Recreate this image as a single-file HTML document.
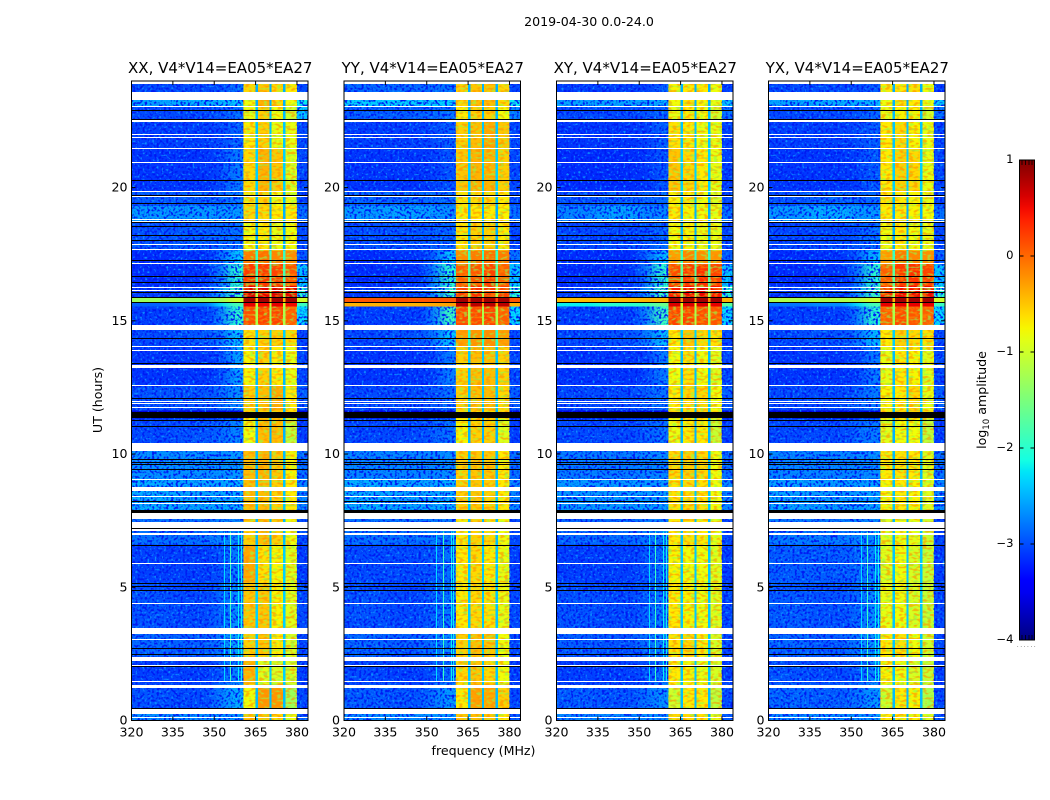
<!DOCTYPE html>
<html lang="en">
<head>
<meta charset="utf-8">
<title>2019-04-30 0.0-24.0 dynamic spectra</title>
<style>
html,body{margin:0;padding:0;background:#fff;width:1050px;height:800px;overflow:hidden}
svg{display:block}
text{font-family:"DejaVu Sans","Liberation Sans",sans-serif;fill:#000}
</style>
</head>
<body>
<svg id="figure" xmlns="http://www.w3.org/2000/svg" width="1050" height="800" viewBox="0 0 1050 800">
<defs id="figure-defs">
<filter id="speckle-dark" x="0" y="0" width="1" height="1" color-interpolation-filters="sRGB">
<feTurbulence type="fractalNoise" baseFrequency="0.42" numOctaves="1" seed="4"/>
<feColorMatrix type="matrix" values="0 0 0 0 0  0 0 0 0 0.1  0 0 0 0 0.95  0 0 0 6 -2.9"/>
</filter>
<filter id="speckle-light" x="0" y="0" width="1" height="1" color-interpolation-filters="sRGB">
<feTurbulence type="fractalNoise" baseFrequency="0.42" numOctaves="1" seed="11"/>
<feColorMatrix type="matrix" values="0 0 0 0 0.05  0 0 0 0 0.55  0 0 0 0 1  0 0 0 6 -3.5"/>
</filter>
<filter id="speckle-warm" x="0" y="0" width="1" height="1" color-interpolation-filters="sRGB">
<feTurbulence type="fractalNoise" baseFrequency="0.22 0.42" numOctaves="1" seed="7"/>
<feColorMatrix type="matrix" values="0 0 0 0 1  0 0 0 0 0.55  0 0 0 0 0  0 0 0 6 -2.9"/>
</filter>
<filter id="speckle-green" x="0" y="0" width="1" height="1" color-interpolation-filters="sRGB">
<feTurbulence type="fractalNoise" baseFrequency="0.22 0.42" numOctaves="1" seed="15"/>
<feColorMatrix type="matrix" values="0 0 0 0 0.55  0 0 0 0 1  0 0 0 0 0.3  0 0 0 6 -3.2"/>
</filter>
<filter id="blur-wide" x="-0.1" y="0" width="1.2" height="1" color-interpolation-filters="sRGB">
<feGaussianBlur stdDeviation="6 0"/>
</filter>
<linearGradient id="jet-gradient" x1="0" y1="1" x2="0" y2="0"></linearGradient>
</defs>
<text x="589" y="26" font-size="12.6" text-anchor="middle">2019-04-30 0.0-24.0</text>
<text x="483.5" y="755" font-size="12.6" text-anchor="middle">frequency (MHz)</text>
<text x="102" y="400" font-size="12.6" text-anchor="middle" transform="rotate(-90 102 400)">UT (hours)</text>
<text x="986" y="400" font-size="12.6" text-anchor="middle" transform="rotate(-90 986 400)">log<tspan font-size="8.6" dy="3">10</tspan><tspan dy="-3"> amplitude</tspan></text>
<g id="panels"></g>
<g id="colorbar"></g>
</svg>
<script>
// ---- data ----
const panelTitles = ["XX, V4*V14=EA05*EA27", "YY, V4*V14=EA05*EA27", "XY, V4*V14=EA05*EA27", "YX, V4*V14=EA05*EA27"];
const freqTicks = [320, 335, 350, 365, 380];
const utTicks = [0, 5, 10, 15, 20];
const colorTicks = [1, 0, -1, -2, -3, -4];
const freqEdges = [320, 335, 350, 355, 360.6, 365, 365.8, 370, 370.8, 375, 375.8, 380, 384];
const utEdges = [24, 23.29, 23.06, 22.5, 21.49, 19.88, 19.31, 18.75, 17.63, 17.14, 16.31, 15.86, 15.68, 15.53, 14.85, 14.06, 12.56, 11.63, 11.33, 10.39, 9.08, 7.8, 6.6, 5.18, 3.45, 2.4, 1.35, 0.45, 0];

const amplitudeXX = [
[-3.0,-3.0,-3.0,-2.8,-0.6,-2.5,-0.5,-2.5,-0.6,-2.5,-0.7,-3.0],
[-2.55,-2.5,-2.45,-2.4,-0.8,-2.5,-0.4,-2.5,-0.6,-2.5,-0.8,-2.2],
[-3,-3,-2.95,-2.8,-0.85,-2.45,-0.55,-2.45,-0.8,-2.45,-1.0,-2.4],
[-3.05,-3.05,-3,-2.85,-0.7,-2.4,-0.55,-2.4,-0.85,-2.4,-0.85,-3],
[-3.1,-3.1,-3,-2.75,-0.6,-2.35,-0.4,-2.35,-0.5,-2.35,-0.9,-3],
[-2.9,-2.9,-2.85,-2.75,-0.7,-2.45,-0.55,-2.45,-0.8,-2.45,-0.85,-3],
[-2.6,-2.6,-2.6,-2.6,-0.6,-2.5,-0.6,-2.5,-0.7,-2.5,-0.7,-2.8],
[-2.95,-2.9,-2.85,-2.8,-0.8,-2.5,-0.7,-2.5,-0.85,-2.5,-0.8,-3],
[-3.15,-3.1,-2.85,-2.4,-0.1,-1.9,-0.05,-1.9,-0.15,-1.9,-0.2,-2.9],
[-3.15,-3.1,-2.75,-2,0.25,-1.8,0.25,-1.8,0.2,-1.8,0.1,-2.4],
[-3.05,-3,-2.6,-1.9,0.6,-1.2,0.55,-1.2,0.6,-1.2,0.55,-2],
[-1.3,-1.35,-1.3,-1,0.85,-0.4,0.85,-0.4,0.85,-0.4,0.85,-1],
[-2.9,-2.8,-2.3,-1.8,0.55,-1,0.5,-1,0.55,-1,0.5,-1.9],
[-3.05,-3.05,-2.75,-2,0.15,-1.2,0.2,-1.2,0.2,-1.2,0.05,-2.3],
[-3,-2.95,-2.8,-2.4,-0.65,-2.35,-0.55,-2.35,-0.55,-2.35,-0.6,-3],
[-3.1,-3.1,-3,-2.55,-0.75,-2.45,-0.55,-2.45,-0.7,-2.45,-0.85,-3],
[-2.95,-2.95,-2.85,-2.65,-0.55,-2.4,-0.45,-2.4,-0.35,-2.4,-0.7,-2.9],
[-3.6,-3.6,-3.6,-3.6,-0.6,-2.5,-0.6,-2.5,-0.6,-2.5,-0.6,-3.6],
[-3,-2.95,-2.85,-2.7,-0.8,-2.5,-0.45,-2.5,-0.45,-2.5,-1.1,-3.05],
[-2.65,-2.65,-2.65,-2.6,-0.45,-2.45,-0.4,-2.45,-0.5,-2.45,-0.75,-2.8],
[-2.5,-2.55,-2.55,-2.5,-0.45,-2.4,-0.45,-2.4,-0.55,-2.4,-0.7,-2.7],
[-2.8,-2.8,-2.7,-2.7,-0.55,-2.45,-0.45,-2.45,-0.55,-2.45,-0.8,-3],
[-3.05,-3.05,-2.95,-2.75,-0.35,-2.35,-0.65,-2.35,-0.75,-2.35,-0.9,-3.05],
[-2.95,-3,-2.85,-2.65,-0.5,-2.35,-0.5,-2.35,-0.75,-2.35,-0.9,-3],
[-2.85,-2.9,-2.75,-2.55,-0.55,-2.4,-0.5,-2.4,-0.7,-2.4,-0.95,-3],
[-3.05,-3.05,-2.95,-2.7,-0.4,-2.35,-0.9,-2.35,-0.95,-2.35,-0.95,-3.05],
[-2.95,-3,-2.75,-2.5,-0.8,-2.45,-0.25,-2.45,-0.25,-2.45,-1.3,-3],
[-2.65,-2.65,-2.65,-2.6,-0.5,-2.5,-0.5,-2.5,-0.6,-2.5,-0.8,-2.9]
];
const amplitudeYY = [
[-2.85,-2.85,-2.85,-2.75,-0.55,-2.5,-0.5,-2.5,-0.5,-2.5,-0.6,-3],
[-2.35,-2.35,-2.35,-2.35,-0.6,-2.5,-0.45,-2.5,-0.45,-2.5,-0.6,-2.2],
[-2.9,-2.9,-2.85,-2.8,-0.7,-2.45,-0.55,-2.45,-0.55,-2.45,-0.8,-2.7],
[-3.05,-3.05,-3,-2.9,-0.55,-2.4,-0.45,-2.4,-0.35,-2.4,-0.5,-3],
[-3.1,-3.1,-3.05,-2.95,-0.5,-2.35,-0.4,-2.35,-0.4,-2.35,-0.55,-3],
[-2.85,-2.85,-2.85,-2.8,-0.65,-2.45,-0.6,-2.45,-0.6,-2.45,-0.7,-3],
[-2.6,-2.55,-2.6,-2.65,-0.7,-2.5,-0.7,-2.5,-0.7,-2.5,-0.75,-2.8],
[-2.95,-2.95,-2.9,-2.85,-0.65,-2.5,-0.55,-2.5,-0.55,-2.5,-0.7,-3],
[-3.15,-3.1,-2.9,-2.4,-0.2,-1.9,-0.1,-1.9,-0.05,-1.9,-0.1,-2.8],
[-3.15,-3.1,-2.75,-2,0.05,-1.7,0.1,-1.7,0.2,-1.7,0.05,-2.4],
[-3.05,-3,-2.7,-1.9,0.2,-1.2,0.3,-1.2,0.25,-1.2,0.2,-2],
[0.1,0.1,0.1,0.1,0.85,0.2,0.85,0.2,0.85,0.2,0.85,0.1],
[-0.4,-0.4,-0.35,-0.3,0.75,-0.3,0.75,-0.3,0.75,-0.3,0.75,-0.4],
[-3.05,-3.05,-2.75,-1.9,0.15,-1.2,0.15,-1.2,0.2,-1.2,0.05,-2.3],
[-3,-2.95,-2.8,-2.4,-0.3,-2,-0.25,-2,-0.2,-2,-0.3,-3],
[-3.1,-3.1,-3.05,-2.75,-0.55,-2.4,-0.45,-2.4,-0.45,-2.4,-0.55,-3],
[-3,-3,-2.95,-2.8,-0.55,-2.4,-0.45,-2.4,-0.45,-2.4,-0.6,-2.9],
[-3.6,-3.6,-3.6,-3.6,-0.6,-2.5,-0.6,-2.5,-0.6,-2.5,-0.6,-3.6],
[-3,-3,-2.9,-2.8,-0.75,-2.5,-0.55,-2.5,-0.55,-2.5,-0.9,-3.05],
[-2.7,-2.7,-2.7,-2.65,-0.55,-2.45,-0.5,-2.45,-0.5,-2.45,-0.7,-2.8],
[-2.5,-2.55,-2.55,-2.5,-0.55,-2.4,-0.5,-2.4,-0.55,-2.4,-0.7,-2.7],
[-2.8,-2.8,-2.75,-2.75,-0.7,-2.45,-0.55,-2.45,-0.6,-2.45,-0.8,-3],
[-3,-3,-2.95,-2.8,-0.7,-2.4,-0.6,-2.4,-0.7,-2.4,-0.85,-3.05],
[-2.95,-3,-2.9,-2.75,-0.7,-2.4,-0.6,-2.4,-0.65,-2.4,-0.85,-3],
[-2.85,-2.9,-2.8,-2.7,-0.55,-2.4,-0.45,-2.4,-0.5,-2.4,-0.8,-3],
[-3,-3.05,-2.95,-2.8,-0.6,-2.4,-0.5,-2.4,-0.6,-2.4,-0.8,-3.05],
[-2.9,-2.95,-2.8,-2.6,-0.7,-2.45,-0.3,-2.45,-0.35,-2.45,-0.55,-3],
[-2.65,-2.65,-2.65,-2.6,-0.5,-2.5,-0.45,-2.5,-0.5,-2.5,-0.7,-2.9]
];
const amplitudeXY = [
[-3.05,-3.05,-3.05,-2.9,-0.75,-2.5,-0.7,-2.5,-0.7,-2.5,-0.8,-3.05],
[-2.55,-2.55,-2.55,-2.5,-0.8,-2.5,-0.65,-2.5,-0.75,-2.5,-0.85,-2.4],
[-3,-3,-2.95,-2.9,-0.85,-2.45,-0.7,-2.45,-0.8,-2.45,-1,-2.8],
[-3.1,-3.1,-3.05,-2.9,-0.65,-2.4,-0.7,-2.4,-0.8,-2.4,-0.85,-3.05],
[-3.15,-3.15,-3.1,-2.95,-0.5,-2.35,-0.6,-2.35,-0.7,-2.35,-0.85,-3.05],
[-2.95,-2.9,-2.9,-2.85,-0.75,-2.45,-0.7,-2.45,-0.8,-2.45,-0.9,-3],
[-2.7,-2.55,-2.7,-2.7,-0.7,-2.5,-0.75,-2.5,-0.8,-2.5,-0.85,-2.8],
[-3,-3,-2.95,-2.85,-0.8,-2.5,-0.75,-2.5,-0.85,-2.5,-0.85,-3],
[-3.15,-3.15,-2.9,-2.45,-0.3,-1.9,-0.15,-1.9,-0.2,-1.9,-0.25,-2.9],
[-3.15,-3.1,-2.8,-2,0.15,-1.7,0.25,-1.7,0.3,-1.7,0.2,-2.4],
[-3.05,-3,-2.7,-1.9,0.4,-1.2,0.5,-1.2,0.55,-1.2,0.45,-2],
[-0.45,-0.45,-0.4,-0.4,0.85,-0.2,0.85,-0.2,0.85,-0.2,0.85,-0.4],
[-2.2,-2,-1.9,-1.6,0.6,-0.9,0.6,-0.9,0.6,-0.9,0.55,-1.7],
[-3.05,-3.05,-2.75,-1.9,0.2,-1.2,0.2,-1.2,0.15,-1.2,0.1,-2.3],
[-3,-2.95,-2.8,-2.45,-0.7,-2.35,-0.5,-2.35,-0.6,-2.35,-0.65,-3],
[-3.1,-3.1,-3.05,-2.75,-0.8,-2.45,-0.65,-2.45,-0.8,-2.45,-0.9,-3],
[-3,-3,-2.9,-2.8,-0.7,-2.4,-0.6,-2.4,-0.6,-2.4,-0.8,-2.9],
[-3.6,-3.6,-3.6,-3.6,-0.6,-2.5,-0.6,-2.5,-0.6,-2.5,-0.6,-3.6],
[-3,-3,-2.9,-2.8,-0.85,-2.5,-0.7,-2.5,-0.7,-2.5,-1.05,-3.05],
[-2.75,-2.75,-2.7,-2.7,-0.6,-2.45,-0.55,-2.45,-0.6,-2.45,-0.8,-2.8],
[-2.6,-2.6,-2.6,-2.6,-0.65,-2.4,-0.6,-2.4,-0.65,-2.4,-0.8,-2.7],
[-2.85,-2.85,-2.75,-2.75,-0.7,-2.45,-0.65,-2.45,-0.7,-2.45,-0.85,-3],
[-3.05,-3.05,-2.95,-2.8,-0.75,-2.4,-0.8,-2.4,-0.8,-2.4,-0.9,-3.05],
[-2.95,-3,-2.9,-2.75,-0.7,-2.4,-0.75,-2.4,-0.8,-2.4,-0.9,-3],
[-2.9,-2.95,-2.8,-2.7,-0.65,-2.4,-0.6,-2.4,-0.7,-2.4,-0.95,-3],
[-3.05,-3.05,-2.95,-2.8,-0.7,-2.4,-0.75,-2.4,-0.85,-2.4,-0.95,-3.05],
[-2.9,-2.95,-2.8,-2.65,-1,-2.45,-0.7,-2.45,-0.7,-2.45,-1.1,-3],
[-2.7,-2.7,-2.65,-2.65,-0.6,-2.5,-0.6,-2.5,-0.65,-2.5,-0.85,-2.9]
];
const amplitudeYX = [
[-3,-3,-3,-2.9,-0.7,-2.5,-0.7,-2.5,-0.65,-2.5,-0.8,-3.05],
[-2.55,-2.5,-2.5,-2.45,-0.8,-2.5,-0.65,-2.5,-0.7,-2.5,-0.85,-2.4],
[-3,-3,-2.95,-2.85,-0.85,-2.45,-0.75,-2.45,-0.75,-2.45,-1,-2.8],
[-3.05,-3.05,-3,-2.9,-0.7,-2.4,-0.6,-2.4,-0.75,-2.4,-0.85,-3],
[-3.1,-3.1,-3.05,-2.9,-0.7,-2.35,-0.55,-2.35,-0.6,-2.35,-0.85,-3],
[-2.95,-2.85,-2.9,-2.85,-0.65,-2.45,-0.7,-2.45,-0.75,-2.45,-0.85,-3],
[-2.6,-2.5,-2.6,-2.6,-0.7,-2.5,-0.7,-2.5,-0.75,-2.5,-0.8,-2.8],
[-3,-3,-2.95,-2.8,-0.8,-2.5,-0.7,-2.5,-0.8,-2.5,-0.85,-3],
[-3.15,-3.1,-2.9,-2.45,-0.3,-1.9,-0.1,-1.9,-0.15,-1.9,-0.2,-2.9],
[-3.15,-3.1,-2.8,-2,0.05,-1.7,0.25,-1.7,0.3,-1.7,0.2,-2.4],
[-3.05,-3,-2.7,-1.9,0.3,-1.2,0.5,-1.2,0.5,-1.2,0.5,-2],
[-1.2,-1.2,-1.15,-1,0.85,-0.4,0.85,-0.4,0.85,-0.4,0.85,-1],
[-2.8,-2.7,-2.3,-1.8,0.55,-1,0.55,-1,0.55,-1,0.55,-1.9],
[-3.05,-3.05,-2.75,-2,0.05,-1.2,0.15,-1.2,0.1,-1.2,0.05,-2.3],
[-3,-2.95,-2.8,-2.45,-0.7,-2.35,-0.55,-2.35,-0.6,-2.35,-0.65,-3],
[-3.1,-3.1,-3.05,-2.75,-0.85,-2.45,-0.7,-2.45,-0.75,-2.45,-0.9,-3],
[-3,-3,-2.9,-2.75,-0.75,-2.4,-0.7,-2.4,-0.6,-2.4,-0.85,-2.9],
[-3.6,-3.6,-3.6,-3.6,-0.6,-2.5,-0.6,-2.5,-0.6,-2.5,-0.6,-3.6],
[-3,-3,-2.85,-2.75,-0.9,-2.5,-0.8,-2.5,-0.8,-2.5,-1.1,-3.05],
[-2.7,-2.7,-2.7,-2.65,-0.7,-2.45,-0.65,-2.45,-0.7,-2.45,-0.9,-2.8],
[-2.55,-2.6,-2.6,-2.55,-0.75,-2.4,-0.7,-2.4,-0.75,-2.4,-0.9,-2.7],
[-2.75,-2.75,-2.7,-2.7,-0.9,-2.45,-0.8,-2.45,-0.85,-2.45,-1,-3],
[-2.9,-2.9,-2.85,-2.7,-0.9,-2.4,-0.8,-2.4,-0.95,-2.4,-1.05,-3.05],
[-2.9,-2.95,-2.85,-2.65,-0.85,-2.4,-0.8,-2.4,-0.95,-2.4,-1.05,-3],
[-2.85,-2.9,-2.75,-2.6,-0.7,-2.4,-0.65,-2.4,-0.8,-2.4,-1,-3],
[-2.95,-3,-2.9,-2.7,-0.75,-2.4,-0.8,-2.4,-0.95,-2.4,-1.05,-3.05],
[-2.85,-2.9,-2.8,-2.6,-1,-2.45,-0.7,-2.45,-0.75,-2.45,-1.2,-3],
[-2.65,-2.65,-2.65,-2.6,-0.7,-2.5,-0.7,-2.5,-0.75,-2.5,-0.9,-2.9]
];
const panelAmplitudes = [amplitudeXX, amplitudeYY, amplitudeXY, amplitudeYX];

// flagged integrations (blank, UT start / end)
const flaggedRanges = [[24,23.87],[23.6,23.29],[14.85,14.65],[13.35,13.22],[10.4,10.13],[8.78,8.6],[7.77,7.58],[7.44,7.22],[3.46,3.25],[2.37,2.24],[1.35,1.23],[0.42,0.24]];
const flaggedLines = [23.04,22.5,21.98,21.89,21.46,20.93,19.85,19.66,18.81,18.71,17.86,17.66,17.14,16.25,16.15,14.03,13.9,12.56,11.97,11.88,11.75,9.05,8.41,8.13,7.15,7.0,5.88,4.38,3.04,2.07,1.47,0.1];
// zero-amplitude integrations (black)
const deadRanges = [[11.56,11.35],[7.9,7.78]];
const deadLines = [22.88,22.56,20.28,19.7,19.4,18.68,18.54,18.2,18,17.28,16.65,16.44,16.06,15.86,15.69,14.35,13.4,12.09,11.25,11.04,9.79,9.69,9.6,9.44,8.22,7.21,6.59,5.15,5.03,4.88,2.71,2.48,2.04,0.46];
// narrow-band interference: frequency (MHz), UT start, UT end, log amplitude
const rfiFreqs = [353.5, 355.8, 358.7, 359.6];
const rfiStart = [1.45, 1.45, 1.45, 1.45];
const rfiEnd = [7.1, 7.1, 7.1, 7.1];
const rfiLevels = [-2.3, -1.9, -2.2, -2.2];

// ---- axis functions ----
const panelLefts = [131.5, 344, 556.5, 768.5];
const panelWidth = 176.5;
const axisTop = 81, axisBottom = 720.5;
function xScale(panel, f){ return panelLefts[panel] + (f - 320) / 64 * panelWidth; }
function yScale(ut){ return axisBottom - ut / 24 * (axisBottom - axisTop); }
const NS = "http://www.w3.org/2000/svg";
function make(tag, attrs, parent){
  const el = document.createElementNS(NS, tag);
  for (const k in attrs) el.setAttribute(k, attrs[k]);
  parent.appendChild(el);
  return el;
}
function lerpStops(stops, t){
  for (let i = 1; i < stops.length; i++){
    if (t <= stops[i][0]){
      const a = stops[i-1], b = stops[i];
      return a[1] + (b[1]-a[1]) * (t-a[0]) / (b[0]-a[0]);
    }
  }
  return stops[stops.length-1][1];
}
const jetR = [[0,0],[0.35,0],[0.66,1],[0.89,1],[1,0.5]];
const jetG = [[0,0],[0.125,0],[0.375,1],[0.64,1],[0.91,0],[1,0]];
const jetB = [[0,0.5],[0.11,1],[0.34,1],[0.65,0],[1,0]];
function jet(v){
  const t = Math.max(0, Math.min(1, (v + 4) / 5));
  const c = [jetR, jetG, jetB].map(s => Math.round(255 * lerpStops(s, t)));
  return "rgb(" + c.join(",") + ")";
}
function drawCells(p, firstCol, lastCol, parent){
  panelAmplitudes[p].forEach((row, r) => {
    for (let c = firstCol; c <= lastCol; c++){
      const x0 = xScale(p, freqEdges[c]), x1 = xScale(p, freqEdges[c + 1]);
      const y0 = yScale(utEdges[r]), y1 = yScale(utEdges[r + 1]);
      const cell = make("rect", {x: x0, y: y0, width: x1 - x0, height: y1 - y0, fill: jet(row[c])}, parent);
      
      
    }
  });
}

// ---- panels ----
const root = document.getElementById("panels");
const defs = document.getElementById("figure-defs");
panelTitles.forEach((title, p) => {
  const clip = make("clipPath", {id: "panel-clip-" + p}, defs);
  make("rect", {x: panelLefts[p], y: axisTop, width: xScale(p, 360.6) - panelLefts[p], height: axisBottom - axisTop}, clip);
  const g = make("g", {}, root);
  
  
  const cells = make("g", {"shape-rendering": "crispEdges"}, g);
  
  
  drawCells(p, 0, 11, cells);
  const soft = make("g", {"shape-rendering": "crispEdges", filter: "url(#blur-wide)", "clip-path": "url(#panel-clip-" + p + ")"}, g);
  
  
  drawCells(p, 0, 3, soft);
  // decorative grain suggesting channel noise; skips the bright interference rows
  [[24, 15.86], [15.53, 0]].forEach(rows => {
    const gy = yScale(rows[0]), gh = yScale(rows[1]) - gy;
    [[320, 360.6], [380, 384]].forEach(span => {
      const gx = xScale(p, span[0]), gw = xScale(p, span[1]) - gx;
      const grainDark = make("rect", {x: gx, y: gy, width: gw, height: gh, filter: "url(#speckle-dark)"}, g);
      
      
      const grainLight = make("rect", {x: gx, y: gy, width: gw, height: gh, filter: "url(#speckle-light)"}, g);
      
      
    });
    const bx = xScale(p, 360.6), bw = xScale(p, 380) - bx;
    const grainWarm = make("rect", {x: bx, y: gy, width: bw, height: gh, filter: "url(#speckle-warm)", opacity: 0.6}, g);
    
    
    const grainGreen = make("rect", {x: bx, y: gy, width: bw, height: gh, filter: "url(#speckle-green)", opacity: 0.6}, g);
    
    
  });
  // spectral-window gaps stay sharp on top of the band
  const gaps = make("g", {"shape-rendering": "crispEdges"}, g);
  
  
  drawCells(p, 5, 5, gaps);
  drawCells(p, 7, 7, gaps);
  drawCells(p, 9, 9, gaps);
  // interference
  rfiFreqs.forEach((f, i) => {
    const spike = make("rect", {x: Math.round(xScale(p, f)), y: yScale(rfiEnd[i]), width: 1, height: yScale(rfiStart[i]) - yScale(rfiEnd[i]), fill: jet(rfiLevels[i]), "shape-rendering": "crispEdges"}, g);
    
    
  });
  // flagged rows
  const rowBox = (a, b, fill, name) => {
    const top = Math.round(yScale(a));
    const el = make("rect", {x: panelLefts[p], y: top, width: panelWidth, height: Math.max(1, Math.round(yScale(b)) - top), fill: fill, "shape-rendering": "crispEdges"}, g);
    
    
  };
  flaggedRanges.forEach(d => rowBox(d[0], d[1], "#fff", "flagged-range"));
  flaggedLines.forEach(u => rowBox(u + 0.02, u - 0.02, "#fff", "flagged-line"));
  deadRanges.forEach(d => rowBox(d[0], d[1], "#000", "dead-range"));
  deadLines.forEach(u => rowBox(u + 0.015, u - 0.015, "#000", "dead-line"));
  // ticks
  freqTicks.forEach(f => {
    const x = xScale(p, f);
    const t1 = make("line", {x1: x, x2: x, y1: axisBottom, y2: axisBottom - 4, stroke: "#000", "stroke-width": 1}, g);
    
    
    const t2 = make("line", {x1: x, x2: x, y1: axisTop, y2: axisTop + 4, stroke: "#000", "stroke-width": 1}, g);
    
    
    const label = make("text", {x: x, y: axisBottom + 16, "font-size": 12.6, "text-anchor": "middle"}, g);
    label.textContent = f;
    
    
  });
  utTicks.forEach(u => {
    const y = yScale(u);
    const t1 = make("line", {x1: panelLefts[p], x2: panelLefts[p] + 4, y1: y, y2: y, stroke: "#000", "stroke-width": 1}, g);
    
    
    const t2 = make("line", {x1: panelLefts[p] + panelWidth - 4, x2: panelLefts[p] + panelWidth, y1: y, y2: y, stroke: "#000", "stroke-width": 1}, g);
    
    
    const label = make("text", {x: panelLefts[p] - 4, y: y + 4, "font-size": 12.6, "text-anchor": "end"}, g);
    label.textContent = u;
    
    
  });
  const frame = make("rect", {x: panelLefts[p], y: axisTop, width: panelWidth, height: axisBottom - axisTop, fill: "none", stroke: "#000", "stroke-width": 1}, g);
  
  
  const ttl = make("text", {x: panelLefts[p] + panelWidth / 2 + 0.5, y: 73, "font-size": 15, "text-anchor": "middle"}, g);
  ttl.textContent = title;
  
  
});

// ---- colorbar ----
const cbar = document.getElementById("colorbar");
const cbX = 1019.5, cbW = 15, cbTop = 160, cbBottom = 640;
function cbY(v){ return cbBottom - (v + 4) / 5 * (cbBottom - cbTop); }
const grad = document.getElementById("jet-gradient");
for (let i = 0; i <= 40; i++){
  make("stop", {offset: (i / 40), "stop-color": jet(-4 + 5 * i / 40)}, grad);
}
const cbRect = make("rect", {x: cbX, y: cbTop, width: cbW, height: cbBottom - cbTop, fill: "url(#jet-gradient)", stroke: "#000", "stroke-width": 1}, cbar);


colorTicks.forEach(v => {
  const y = cbY(v);
  const t1 = make("line", {x1: cbX, x2: cbX + 4, y1: y, y2: y, stroke: "#000"}, cbar);
  
  
  const t2 = make("line", {x1: cbX + cbW - 4, x2: cbX + cbW, y1: y, y2: y, stroke: "#000"}, cbar);
  
  
  const label = make("text", {x: cbX - 6, y: y + 3, "font-size": 11.6, "text-anchor": "end"}, cbar);
  label.textContent = v < 0 ? "\u2212" + Math.abs(v) : String(v);
  
  
});
[2.5, 6, 9.5, 12.5].forEach(dx => {
  const m1 = make("line", {x1: cbX + dx, x2: cbX + dx, y1: cbTop, y2: cbTop + 5, stroke: "#000", "stroke-width": 0.8}, cbar);
  
  
  const m2 = make("line", {x1: cbX + dx, x2: cbX + dx, y1: cbBottom, y2: cbBottom - 5, stroke: "#000", "stroke-width": 0.8}, cbar);
  
  
});
const dots = make("text", {x: 1017, y: 647, "font-size": 5, "letter-spacing": "1.8", fill: "#777"}, cbar);
dots.textContent = "......";


</script>
</body>
</html>
